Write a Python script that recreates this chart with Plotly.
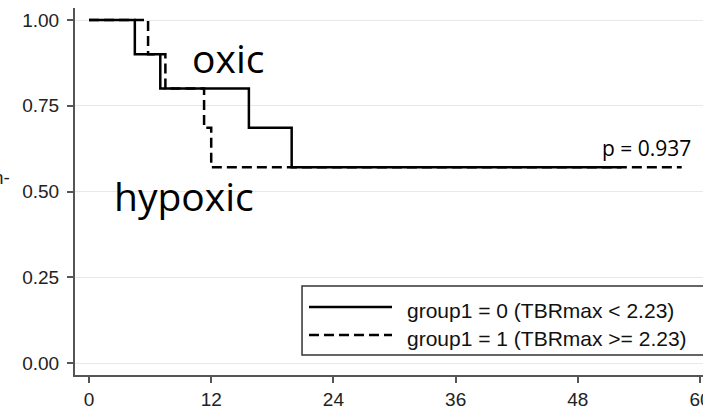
import plotly.graph_objects as go

# Kaplan-Meier step data (months, survival probability)
group0_time = [0, 4.5, 7.0, 15.7, 19.9, 52.3]
group0_surv = [1.0, 0.9, 0.8, 0.686, 0.571, 0.571]
group1_time = [0, 5.8, 7.5, 11.3, 12.0, 58.2]
group1_surv = [1.0, 0.9, 0.8, 0.686, 0.571, 0.571]

series_names = ["group1 = 0 (TBRmax < 2.23)", "group1 = 1 (TBRmax >= 2.23)"]
x_ticks = [0, 12, 24, 36, 48, 60]
y_ticks = [0.0, 0.25, 0.5, 0.75, 1.0]
y_tick_labels = ["0.00", "0.25", "0.50", "0.75", "1.00"]

DASH = "10px,5px"

fig = go.Figure()
fig.add_trace(go.Scatter(x=group1_time, y=group1_surv, mode="lines", line_shape="hv",
                         line=dict(color="black", width=2.5, dash=DASH),
                         name=series_names[1], showlegend=False))
fig.add_trace(go.Scatter(x=group0_time, y=group0_surv, mode="lines", line_shape="hv",
                         line=dict(color="black", width=2.5),
                         name=series_names[0], showlegend=False))

tick_font = dict(family="Liberation Sans, Arial", size=19, color="#222")

fig.update_layout(
    width=703, height=413,
    margin=dict(l=75, r=0, t=8, b=38),
    paper_bgcolor="white", plot_bgcolor="white",
    xaxis=dict(range=[-1.375, 60.29], tickvals=x_ticks, ticks="outside", ticklen=6,
               tickwidth=1.5, tickcolor="#555", showline=True, linecolor="#555", linewidth=2,
               showgrid=False, zeroline=False, tickfont=tick_font,
               ticklabeloverflow="allow", automargin=False),
    yaxis=dict(range=[-0.035, 1.035], tickvals=y_ticks, ticktext=y_tick_labels,
               ticks="outside", ticklen=6, tickwidth=1.5, tickcolor="#555",
               showline=True, linecolor="#555", linewidth=2,
               showgrid=True, gridcolor="#e8e8e8", gridwidth=1, zeroline=False,
               tickfont=tick_font, ticklabelstandoff=4, automargin=False),
    showlegend=False,
)

big_font = dict(family="Open Sans", size=39, color="black")
fig.add_annotation(x=13.65, y=0.892, text="oxic", showarrow=False, font=big_font,
                   xanchor="center", yanchor="middle")
fig.add_annotation(x=9.28, y=0.488, text="hypoxic", showarrow=False, font=big_font,
                   xanchor="center", yanchor="middle")
fig.add_annotation(x=59.3, y=0.627, text="p = 0.937", showarrow=False,
                   font=dict(family="Open Sans", size=21, color="black"),
                   xanchor="right", yanchor="middle")
fig.add_annotation(xref="paper", yref="paper", x=-63/628, y=(375-177)/367, text="n-",
                   showarrow=False, font=tick_font, xanchor="right", yanchor="middle")

# Legend (drawn manually to match the reference box)
fig.add_shape(type="rect", xref="paper", yref="paper", x0=0.3615, x1=1.003, y0=0.0545, y1=0.2425,
              line=dict(color="#333", width=1.5), fillcolor="white", layer="above")
fig.add_shape(type="line", xref="paper", yref="paper", x0=0.3726, x1=0.5048, y0=0.1853, y1=0.1853,
              line=dict(color="black", width=2.5))
fig.add_shape(type="line", xref="paper", yref="paper", x0=0.3726, x1=0.5048, y0=0.109, y1=0.109,
              line=dict(color="black", width=2.5, dash=DASH))
leg_font = dict(family="Liberation Sans, Arial", size=21, color="#111")
fig.add_annotation(xref="paper", yref="paper", x=0.5255, y=0.1771, text=series_names[0],
                   showarrow=False, font=leg_font, xanchor="left", yanchor="middle")
fig.add_annotation(xref="paper", yref="paper", x=0.5255, y=0.1008, text=series_names[1],
                   showarrow=False, font=leg_font, xanchor="left", yanchor="middle")

fig.write_html("out.html")
